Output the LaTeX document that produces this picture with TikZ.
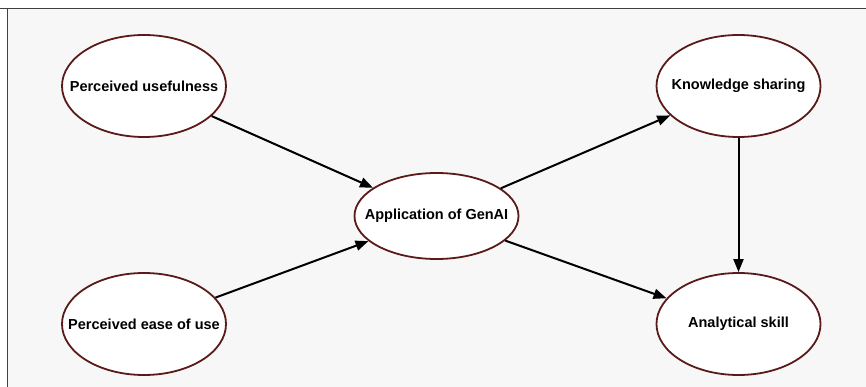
\documentclass[tikz,border=0pt]{standalone}
\usepackage{fontspec}
\setmainfont{Liberation Sans}
\usetikzlibrary{shapes.geometric,arrows.meta}
\definecolor{ring}{HTML}{5A1A1A}
\definecolor{bg}{HTML}{F7F7F7}
\tikzset{
  construct/.style={ellipse, draw=ring, line width=1.8pt, fill=white, minimum width=#1, font=\bfseries\fontsize{14.5}{17}\selectfont, inner xsep=-40pt, inner ysep=0pt},
  construct/.default={164pt},
  link/.style={line width=2pt, -{Triangle[length=13pt,width=10pt]}}
}
\begin{document}
\begin{tikzpicture}[x=1pt,y=-1pt]
\useasboundingbox (0,0) rectangle (866,387);
\fill[white] (0,0) rectangle (866,387);
\fill[bg] (7,8) rectangle (866,387);
\draw[line width=0.8pt, black!75] (0,8) -- (866,8);
\draw[line width=0.8pt, black!75] (7,8) -- (7,387);
\node[construct, minimum height=102pt] (pu) at (144,86) {Perceived usefulness};
\node[construct, minimum height=102pt] (peu) at (144,324) {Perceived ease of use};
\node[construct, minimum height=86pt] (app) at (436.5,216) {Application of GenAI};
\node[construct, minimum height=102pt] (ks) at (738.5,86) {Knowledge sharing};
\node[construct, minimum height=102pt] (as) at (738.5,324) {Analytical skill};
\draw[link] (pu) -- (app);
\draw[link] (peu) -- (app);
\draw[link] (app) -- (ks);
\draw[link] (app) -- (as);
\draw[link] (ks) -- (as);
\end{tikzpicture}
\end{document}
